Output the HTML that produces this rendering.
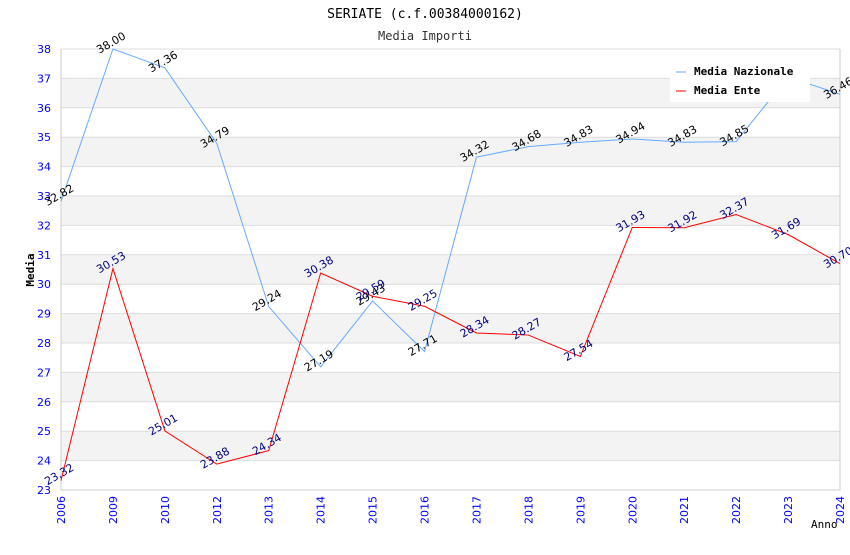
<!DOCTYPE html>
<html><head><meta charset="utf-8"><style>
body{margin:0;background:#fff;width:850px;height:550px;overflow:hidden}
text{font-family:"DejaVu Sans","Liberation Sans",sans-serif}
text.mono{font-family:"DejaVu Sans Mono","Liberation Mono",monospace}
</style></head><body>
<svg id="c" width="850" height="550" xmlns="http://www.w3.org/2000/svg">
<text class="mono" x="425" y="18" text-anchor="middle" font-size="13" fill="#000">SERIATE (c.f.00384000162)</text>
<text class="mono" x="425" y="40" text-anchor="middle" font-size="12" fill="#333">Media Importi</text>
<g id="grid"></g><g id="axes"></g><g id="series"></g>
<text class="mono" x="34" y="270" text-anchor="middle" font-size="11" font-weight="bold" transform="rotate(-90 34 270)">Media</text>
<text class="mono" x="811" y="528" font-size="11">Anno</text>
<g>
<rect x="670" y="60" width="140" height="42" fill="#fff"/>
<line x1="676" y1="72" x2="686" y2="72" stroke="#66aaff"/>
<text class="mono" x="694" y="75" font-size="11" font-weight="bold">Media Nazionale</text>
<line x1="676" y1="91" x2="686" y2="91" stroke="#ff0000"/>
<text class="mono" x="694" y="94" font-size="11" font-weight="bold">Media Ente</text>
</g>
</svg>
<script>
const categories=["2006","2009","2010","2012","2013","2014","2015","2016","2017","2018","2019","2020","2021","2022","2023","2024"];
const nazionale=[32.82,38.00,37.36,34.79,29.24,27.19,29.43,27.71,34.32,34.68,34.83,34.94,34.83,34.85,37.05,36.46];
const ente=[23.32,30.53,25.01,23.88,24.34,30.38,29.59,29.25,28.34,28.27,27.54,31.93,31.92,32.37,31.69,30.70];
const yTicks=[23,24,25,26,27,28,29,30,31,32,33,34,35,36,37,38];
const NS="http://www.w3.org/2000/svg";
const L=61,R=840,T=49,B=490,yMin=23,yMax=38;
const x=i=>L+(R-L)*i/(categories.length-1);
const y=v=>B-(v-yMin)/(yMax-yMin)*(B-T);
function mk(tag,attrs,parent){const e=document.createElementNS(NS,tag);for(const k in attrs)e.setAttribute(k,attrs[k]);parent.appendChild(e);return e;}
const grid=document.getElementById('grid'),axes=document.getElementById('axes'),ser=document.getElementById('series');
for(let v=yMin;v<yMax;v++){
  if(v%2===0){const r=mk('rect',{x:L,y:y(v+1),width:R-L,height:y(v)-y(v+1),fill:'#f3f3f3'},grid);
  
  }
}
yTicks.forEach(v=>{
  const l=mk('line',{x1:L,x2:R,y1:y(v),y2:y(v),stroke:'#dddddd'},grid);
  
  
  const t=mk('text',{x:L-10,y:y(v)+4,'text-anchor':'end','font-size':11,fill:'#0000ff'},axes);
  
  
  t.textContent=v;
});
const ax=mk('path',{d:`M${L},${T}V${B}H${R}V${T}`,fill:'none',stroke:'#cccccc'},axes);


categories.forEach((c,i)=>{
  const t=mk('text',{x:x(i)+4,y:B+6,'text-anchor':'end','font-size':11,fill:'#0000ff',transform:`rotate(-90 ${x(i)+4} ${B+6})`},axes);
  
  
  t.textContent=c;
});
function series(data,color,lblColor,name){
  const p=mk('polyline',{points:data.map((v,i)=>x(i)+','+y(v)).join(' '),fill:'none',stroke:color,'stroke-width':1},ser);
  
  
  data.forEach((v,i)=>{
    const tx=x(i),ty=y(v)-3;
    const t=mk('text',{x:tx,y:ty,'text-anchor':'middle','font-size':11,fill:lblColor,transform:`rotate(-30 ${tx} ${ty})`},ser);
    
    
    t.textContent=v.toFixed(2);
  });
}
series(nazionale,'#66aaff','#000','nazionale');
series(ente,'#ff0000','#000080','ente');
</script>
</body></html>
